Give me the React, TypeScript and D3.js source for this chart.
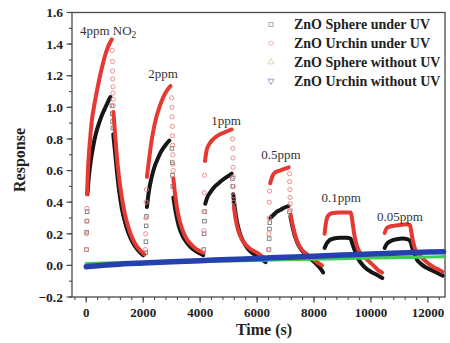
import React from 'react';
import * as d3 from 'd3';

type Pt = [number, number];

// ZnO Sphere under UV (black squares): dense parts drawn as bands, fast jumps as single markers
const sphereUVBands: Pt[][] = [
  [[40, 0.45], [80, 0.54], [150, 0.65], [250, 0.76], [350, 0.84], [450, 0.9], [550, 0.95], [650, 0.99], [750, 1.03], [850, 1.065]],
  [[950, 0.83], [1000, 0.74], [1075, 0.6], [1150, 0.48], [1250, 0.36], [1400, 0.25], [1550, 0.175], [1700, 0.125], [1850, 0.09], [2000, 0.065]],
  [[2130, 0.37], [2200, 0.47], [2300, 0.56], [2400, 0.625], [2500, 0.67], [2600, 0.71], [2700, 0.74], [2800, 0.765], [2920, 0.79]],
  [[3060, 0.43], [3150, 0.33], [3250, 0.25], [3400, 0.18], [3550, 0.14], [3700, 0.11], [3850, 0.09], [4000, 0.075], [4110, 0.065]],
  [[4180, 0.39], [4250, 0.43], [4350, 0.46], [4470, 0.49], [4650, 0.52], [4820, 0.545], [4980, 0.565], [5110, 0.58]],
  [[5160, 0.45], [5220, 0.36], [5290, 0.28], [5400, 0.2], [5520, 0.15], [5700, 0.1], [5900, 0.07], [6100, 0.045], [6300, 0.02]],
  [[6470, 0.3], [6580, 0.32], [6700, 0.34], [6810, 0.35], [6950, 0.365], [7100, 0.375]],
  [[7170, 0.31], [7250, 0.24], [7330, 0.185], [7450, 0.13], [7570, 0.095], [7750, 0.06], [7920, 0.035], [8100, 0.005], [8250, -0.025], [8320, -0.045]],
  [[8370, 0.11], [8450, 0.14], [8550, 0.16], [8690, 0.17], [8900, 0.175], [9150, 0.175], [9280, 0.17], [9360, 0.13], [9440, 0.09], [9540, 0.045], [9650, 0.015], [9800, -0.015], [10000, -0.04], [10200, -0.06], [10400, -0.08]],
  [[10480, 0.11], [10550, 0.135], [10700, 0.155], [10900, 0.165], [11100, 0.17], [11300, 0.165], [11390, 0.15], [11450, 0.11], [11530, 0.07], [11620, 0.035], [11720, 0.015], [11900, -0.01], [12070, -0.025], [12300, -0.045], [12520, -0.065]],
];
const sphereUVDots: Pt[] = [
  [10, 0.1], [18, 0.21], [24, 0.28], [30, 0.34],
  [905, 1.01], [915, 0.96], [925, 0.91], [935, 0.87],
  [2085, 0.08], [2095, 0.15], [2105, 0.25], [2115, 0.31],
  [3010, 0.74], [3020, 0.65], [3030, 0.57], [3040, 0.5],
  [4130, 0.1], [4140, 0.2], [4150, 0.28], [4160, 0.34],
  [5135, 0.55], [5145, 0.5],
  [6415, 0.1], [6425, 0.17], [6435, 0.23], [6445, 0.27],
  [7140, 0.34],
];

// ZnO Urchin under UV (red circles)
const urchinUVBands: Pt[][] = [
  [[30, 0.45], [60, 0.6], [100, 0.72], [150, 0.83], [200, 0.92], [260, 0.99], [350, 1.08], [450, 1.17], [550, 1.25], [650, 1.32], [750, 1.375], [850, 1.415], [900, 1.43]],
  [[955, 0.97], [1000, 0.86], [1075, 0.69], [1150, 0.56], [1250, 0.43], [1350, 0.33], [1500, 0.23], [1650, 0.16], [1800, 0.115], [1950, 0.085], [2040, 0.07]],
  [[2130, 0.56], [2200, 0.66], [2280, 0.77], [2360, 0.855], [2450, 0.93], [2550, 0.99], [2650, 1.04], [2750, 1.08], [2850, 1.11], [2960, 1.135]],
  [[3060, 0.55], [3120, 0.45], [3200, 0.35], [3300, 0.27], [3400, 0.215], [3550, 0.16], [3700, 0.13], [3850, 0.105], [4000, 0.09], [4120, 0.08]],
  [[4170, 0.66], [4230, 0.73], [4350, 0.775], [4500, 0.805], [4700, 0.83], [4900, 0.845], [5110, 0.86]],
  [[5185, 0.37], [5260, 0.28], [5340, 0.22], [5450, 0.17], [5600, 0.13], [5800, 0.1], [6000, 0.08], [6150, 0.06], [6280, 0.045]],
  [[6460, 0.52], [6550, 0.57], [6650, 0.59], [6800, 0.6], [6950, 0.61], [7110, 0.62]],
  [[7180, 0.32], [7270, 0.24], [7340, 0.19], [7450, 0.135], [7570, 0.1], [7750, 0.07], [7920, 0.045], [8100, 0.02], [8280, 0.0]],
  [[8370, 0.2], [8420, 0.27], [8480, 0.31], [8620, 0.33], [8900, 0.335], [9100, 0.335], [9290, 0.335], [9330, 0.3], [9370, 0.25], [9420, 0.19], [9500, 0.125], [9600, 0.085], [9730, 0.06], [9900, 0.03], [10080, 0.0], [10250, -0.03], [10390, -0.045]],
  [[10480, 0.205], [10550, 0.235], [10650, 0.245], [10790, 0.25], [11000, 0.255], [11250, 0.26], [11370, 0.255], [11410, 0.22], [11450, 0.175], [11530, 0.115], [11630, 0.075], [11720, 0.06], [11900, 0.03], [12070, 0.005], [12300, -0.02], [12510, -0.04]],
];
const urchinUVDots: Pt[] = [
  [5, 0.1], [12, 0.2], [18, 0.28], [24, 0.36],
  [915, 1.36], [920, 1.29], [925, 1.23], [930, 1.18], [935, 1.13], [940, 1.09], [945, 1.05], [950, 1.01],
  [2080, 0.1], [2088, 0.2], [2096, 0.3], [2104, 0.4], [2112, 0.48],
  [3000, 1.06], [3008, 1.0], [3016, 0.94], [3024, 0.88], [3030, 0.82], [3036, 0.76], [3042, 0.7], [3048, 0.64], [3054, 0.6],
  [4120, 0.1], [4128, 0.22], [4136, 0.34], [4144, 0.46], [4152, 0.57],
  [5140, 0.8], [5146, 0.74], [5152, 0.68], [5158, 0.62], [5164, 0.56], [5170, 0.5], [5176, 0.44], [5180, 0.4],
  [6405, 0.1], [6413, 0.2], [6421, 0.3], [6429, 0.4], [6437, 0.47],
  [7140, 0.58], [7146, 0.53], [7152, 0.48], [7158, 0.43], [7164, 0.39], [7170, 0.35],
];

// no UV baselines
const sphereDark: Pt[] = [[0, 0.012], [1000, 0.016], [2000, 0.019], [3000, 0.022], [4000, 0.026], [5000, 0.029], [6000, 0.032], [7000, 0.036], [8000, 0.04], [9000, 0.043], [10000, 0.047], [11000, 0.05], [12000, 0.053], [12550, 0.055]];
const urchinDark: Pt[] = [[0, -0.008], [500, 0.0], [1000, 0.006], [2000, 0.015], [3000, 0.023], [4000, 0.03], [5000, 0.037], [6000, 0.044], [7000, 0.051], [8000, 0.058], [9000, 0.065], [10000, 0.072], [11000, 0.078], [12000, 0.084], [12550, 0.087]];

const xTicks = [0, 2000, 4000, 6000, 8000, 10000, 12000];
const yTicks = [-0.2, 0, 0.2, 0.4, 0.6, 0.8, 1.0, 1.2, 1.4, 1.6];
const legendLabels = ['ZnO Sphere under UV', 'ZnO Urchin under UV', 'ZnO Sphere without UV', 'ZnO Urchin without UV'];
const doseLabels = ['4ppm NO', '2ppm', '1ppm', '0.5ppm', '0.1ppm', '0.05ppm'];
const doseAnchors: Pt[] = [[770, 1.457], [2700, 1.186], [4910, 0.89], [6840, 0.675], [8950, 0.404], [11020, 0.284]];

const W = 450;
const H = 343;
const left = 72, right = 445, top = 12.5, bottom = 297;
const font = 'Liberation Serif, Times New Roman, serif';
const axisColor = '#4a4a4a';

const App = () => {
  const x = d3.scaleLinear().domain([-500, 12600]).range([left, right]);
  const y = d3.scaleLinear().domain([-0.2, 1.6]).range([bottom, top]);
  const line = d3.line<Pt>().x(d => x(d[0])).y(d => y(d[1])).curve(d3.curveMonotoneX);
  const xMinor = d3.range(-400, 12600, 400);
  const yMinor = d3.range(-0.2, 1.61, 0.1);
  const tri = d3.symbol().type(d3.symbolTriangle).size(16)() as string;

  const black = '#161616';
  const red = '#e53a33';
  const green = '#3ccd52';
  const blue = '#2541b0';

  return (
    <svg width={W} height={H} style={{ position: 'absolute', left: 0, top: 0, background: '#fff' }} fontFamily={font}>
      {/* frame */}
      <rect x={left} y={top} width={right - left} height={bottom - top} fill="none" stroke={axisColor} strokeWidth={1.3} />

      {/* y ticks */}
      {yMinor.map((v, i) => (
        <line key={'ym' + i} x1={left} x2={left - 3} y1={y(v)} y2={y(v)} stroke={axisColor} strokeWidth={1.1} />
      ))}
      {yTicks.map(v => (
        <g key={'y' + v}>
          <line x1={left} x2={left - 5.5} y1={y(v)} y2={y(v)} stroke={axisColor} strokeWidth={1.2} />
          <text x={left - 9} y={y(v)} dy="0.35em" textAnchor="end" fontSize={13.5} fontWeight="bold" fill="#222">
            {d3.format('.1f')(v)}
          </text>
        </g>
      ))}

      {/* x ticks */}
      {xMinor.map((t, i) => (
        <line key={'xm' + i} x1={x(t)} x2={x(t)} y1={bottom} y2={bottom + 3} stroke={axisColor} strokeWidth={1.1} />
      ))}
      {xTicks.map(t => (
        <g key={'x' + t}>
          <line x1={x(t)} x2={x(t)} y1={bottom} y2={bottom + 5.5} stroke={axisColor} strokeWidth={1.2} />
          <text x={x(t)} y={317} textAnchor="middle" fontSize={13} fontWeight="bold" fill="#222">{t}</text>
        </g>
      ))}

      <text x={264} y={335} textAnchor="middle" fontSize={16} fontWeight="bold" fill="#222">Time (s)</text>
      <text transform="translate(25,160) rotate(-90)" textAnchor="middle" fontSize={16} fontWeight="bold" fill="#222">Response</text>

      {/* sphere under UV */}
      {sphereUVBands.map((b, i) => (
        <path key={'sb' + i} d={line(b) || ''} fill="none" stroke={black} strokeWidth={4} strokeLinecap="round" strokeLinejoin="round" />
      ))}
      {sphereUVDots.map((p, i) => (
        <rect key={'sd' + i} x={x(p[0]) - 1.8} y={y(p[1]) - 1.8} width={3.6} height={3.6} fill="none" stroke="#7a7a7a" strokeWidth={0.9} />
      ))}

      {/* urchin under UV */}
      {urchinUVBands.map((b, i) => (
        <path key={'ub' + i} d={line(b) || ''} fill="none" stroke={red} strokeWidth={4} strokeLinecap="round" strokeLinejoin="round" />
      ))}
      {urchinUVDots.map((p, i) => (
        <circle key={'ud' + i} cx={x(p[0])} cy={y(p[1])} r={2.1} fill="none" stroke="#e68585" strokeWidth={0.9} />
      ))}

      {/* without UV */}
      <path d={line(sphereDark) || ''} fill="none" stroke={green} strokeWidth={3.2} strokeLinecap="round" />
      <path d={line(urchinDark) || ''} fill="none" stroke={blue} strokeWidth={5.5} strokeLinecap="round" />

      {/* dose labels */}
      {doseLabels.map((s, i) => (
        <text key={s} x={x(doseAnchors[i][0])} y={y(doseAnchors[i][1])} textAnchor="middle" fontSize={13} fill="#333">
          {s}
          {i === 0 && <tspan dy={3} fontSize={9.5}>2</tspan>}
        </text>
      ))}

      {/* legend */}
      {legendLabels.map((s, i) => {
        const ly = 24.5 + i * 18.8;
        const mk = ['#a4adb6', '#e8b3bb', '#c6e4b0', '#a09ed8'][i];
        return (
          <g key={s}>
            {i === 0 && <rect x={269} y={ly - 2} width={4} height={4} fill="none" stroke={mk} strokeWidth={1} />}
            {i === 1 && <circle cx={271} cy={ly} r={2.2} fill="none" stroke={mk} strokeWidth={1} />}
            {i === 2 && <path d={tri} transform={`translate(271,${ly})`} fill="none" stroke={mk} strokeWidth={1} />}
            {i === 3 && <path d={tri} transform={`translate(271,${ly}) rotate(180)`} fill="none" stroke={mk} strokeWidth={1} />}
            <text x={294} y={ly} dy="0.35em" fontSize={14} fontWeight="bold" fill="#222">{s}</text>
          </g>
        );
      })}
    </svg>
  );
};

export default App;
